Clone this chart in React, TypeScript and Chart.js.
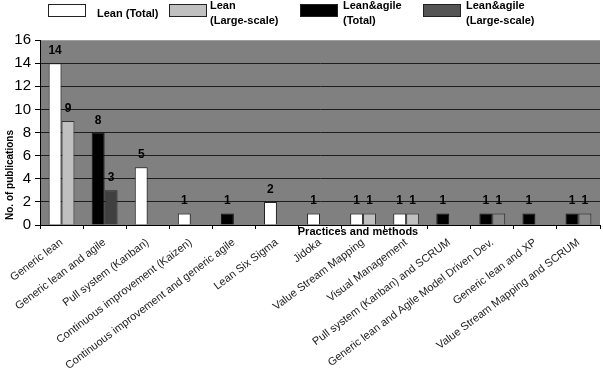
import { useEffect, useRef } from 'react';
import { Chart, registerables } from 'chart.js';

Chart.register(...registerables);

const categories = [
  'Generic lean',
  'Generic lean and agile',
  'Pull system (Kanban)',
  'Continuous improvement (Kaizen)',
  'Continuous improvement and generic agile',
  'Lean Six Sigma',
  'Jidoka',
  'Value Stream Mapping',
  'Visual Management',
  'Pull system (Kanban) and SCRUM',
  'Generic lean and Agile Model Driven Dev.',
  'Generic lean and XP',
  'Value Stream Mapping and SCRUM',
];

const leanTotal = [14, 0, 5, 1, 0, 2, 1, 1, 1, 0, 0, 0, 0];
const leanLarge = [9, 0, 0, 0, 0, 0, 0, 1, 1, 0, 0, 0, 0];
const leanAgileTotal = [0, 8, 0, 0, 1, 0, 0, 0, 0, 1, 1, 1, 1];
const leanAgileLarge = [0, 3, 0, 0, 0, 0, 0, 0, 0, 0, 1, 0, 1];

const yMin = 0;
const yMax = 16;
const yStep = 2;

const yTitle = 'No. of publications';
const xTitle = 'Practices and methods';

const FONT = "'Liberation Sans', Arial, sans-serif";

// zero counts are left empty so no flat bar outline is drawn
const toBars = (values: number[]) => values.map((v) => (v ? v : null));

const laLargeFill = categories.map((_, i) => (i === 1 ? '#404040' : '#8a8a8a'));

// Legend boxes drawn across the top of the canvas
const legendPlugin = {
  id: 'topLegend',
  afterDraw(chart: any) {
    const { ctx } = chart;
    const slots = [
      { box: 48, text: 97 },
      { box: 169, text: 210 },
      { box: 300, text: 343 },
      { box: 423, text: 466 },
    ];
    ctx.save();
    chart.data.datasets.forEach((ds: any, i: number) => {
      const s = slots[i];
      const fill = ds.legendFill || ds.backgroundColor;
      ctx.fillStyle = fill;
      ctx.fillRect(s.box, 4.5, 37, 12);
      ctx.strokeStyle = '#222';
      ctx.lineWidth = 1;
      ctx.strokeRect(s.box + 0.5, 4.5, 37, 12);
      ctx.fillStyle = '#000';
      ctx.font = `bold 11px ${FONT}`;
      ctx.textAlign = 'left';
      ctx.textBaseline = 'middle';
      const lines: string[] = ds.legendLines;
      if (lines.length === 1) {
        ctx.fillText(lines[0], s.text, 14);
      } else {
        ctx.fillText(lines[0], s.text, 6);
        ctx.fillText(lines[1], s.text, 21);
      }
    });
    ctx.restore();
  },
};

// Grey plot background, axis titles and value labels
const decorPlugin = {
  id: 'decor',
  beforeDraw(chart: any) {
    const { ctx, chartArea } = chart;
    ctx.save();
    ctx.fillStyle = '#808080';
    ctx.fillRect(chartArea.left, chartArea.top, chartArea.right - chartArea.left, chartArea.bottom - chartArea.top);
    ctx.restore();
  },
  afterDatasetsDraw(chart: any) {
    const { ctx } = chart;
    ctx.save();
    ctx.fillStyle = '#000';
    ctx.font = `bold 12px ${FONT}`;
    ctx.textAlign = 'center';
    ctx.textBaseline = 'alphabetic';
    chart.data.datasets.forEach((ds: any, di: number) => {
      const meta = chart.getDatasetMeta(di);
      meta.data.forEach((el: any, i: number) => {
        const v = ds.data[i];
        if (v === null || v === undefined) return;
        ctx.fillText(String(v), el.x, el.y - 9);
      });
    });
    ctx.restore();
  },
  afterDraw(chart: any) {
    const { ctx, chartArea } = chart;
    ctx.save();
    ctx.fillStyle = '#000';
    ctx.font = `bold 11px ${FONT}`;
    ctx.textAlign = 'center';
    ctx.textBaseline = 'middle';
    ctx.fillText(xTitle, 358, chartArea.bottom + 7);
    ctx.translate(10, 175);
    ctx.rotate(-Math.PI / 2);
    ctx.font = `bold 10px ${FONT}`;
    ctx.fillText(yTitle, 0, 0);
    ctx.restore();
  },
};

export default function App() {
  const canvasRef = useRef<HTMLCanvasElement | null>(null);

  useEffect(() => {
    document.body.style.margin = '0';
    const canvas = canvasRef.current;
    if (!canvas) return;
    const chart = new Chart(canvas, {
      type: 'bar',
      data: {
        labels: categories,
        datasets: [
          {
            label: 'Lean (Total)',
            legendLines: ['Lean (Total)'],
            data: toBars(leanTotal),
            stack: 'total',
            backgroundColor: '#ffffff',
            borderColor: '#222222',
            borderWidth: 1,
          },
          {
            label: 'Lean (Large-scale)',
            legendLines: ['Lean', '(Large-scale)'],
            data: toBars(leanLarge),
            stack: 'large',
            backgroundColor: '#c0c0c0',
            borderColor: '#333333',
            borderWidth: 1,
          },
          {
            label: 'Lean&agile (Total)',
            legendLines: ['Lean&agile', '(Total)'],
            data: toBars(leanAgileTotal),
            stack: 'total',
            backgroundColor: '#000000',
            borderColor: '#111111',
            borderWidth: 1,
          },
          {
            label: 'Lean&agile (Large-scale)',
            legendLines: ['Lean&agile', '(Large-scale)'],
            legendFill: '#555555',
            data: toBars(leanAgileLarge),
            stack: 'large',
            backgroundColor: laLargeFill,
            borderColor: '#222222',
            borderWidth: 1,
          },
        ] as any,
      },
      options: {
        animation: false,
        responsive: false,
        maintainAspectRatio: false,
        layout: { padding: { left: 0, right: 3, top: 40, bottom: 0 } },
        plugins: {
          legend: { display: false },
          tooltip: { enabled: false },
        },
        datasets: {
          bar: { categoryPercentage: 0.6, barPercentage: 1 },
        },
        scales: {
          x: {
            stacked: true,
            grid: {
              display: true,
              drawOnChartArea: false,
              drawTicks: true,
              tickLength: 4,
              color: '#000',
              offset: true,
            },
            border: { display: true, color: '#000', width: 1 },
            ticks: {
              autoSkip: false,
              minRotation: 37,
              maxRotation: 37,
              padding: 7,
              color: '#222',
              font: { family: FONT, size: 11 },
            },
            afterFit(scale: any) {
              scale.height = 153;
            },
          },
          y: {
            stacked: true,
            min: yMin,
            max: yMax,
            grid: {
              color: (c: any) => (c.tick && c.tick.value === yMax ? '#a0a0a0' : '#1e1e1e'),
              tickColor: '#000',
              tickLength: 5,
              lineWidth: 1,
            },
            border: { display: true, color: '#000', width: 1 },
            ticks: {
              stepSize: yStep,
              padding: 4,
              color: '#000',
              font: { family: FONT, size: 15 },
            },
            afterFit(scale: any) {
              scale.width = 40;
            },
          },
        },
      } as any,
      plugins: [decorPlugin, legendPlugin],
    });
    return () => chart.destroy();
  }, []);

  return (
    <div style={{ width: 603, height: 378, background: '#fff' }}>
      <canvas ref={canvasRef} width={603} height={378} style={{ display: 'block' }} />
    </div>
  );
}
